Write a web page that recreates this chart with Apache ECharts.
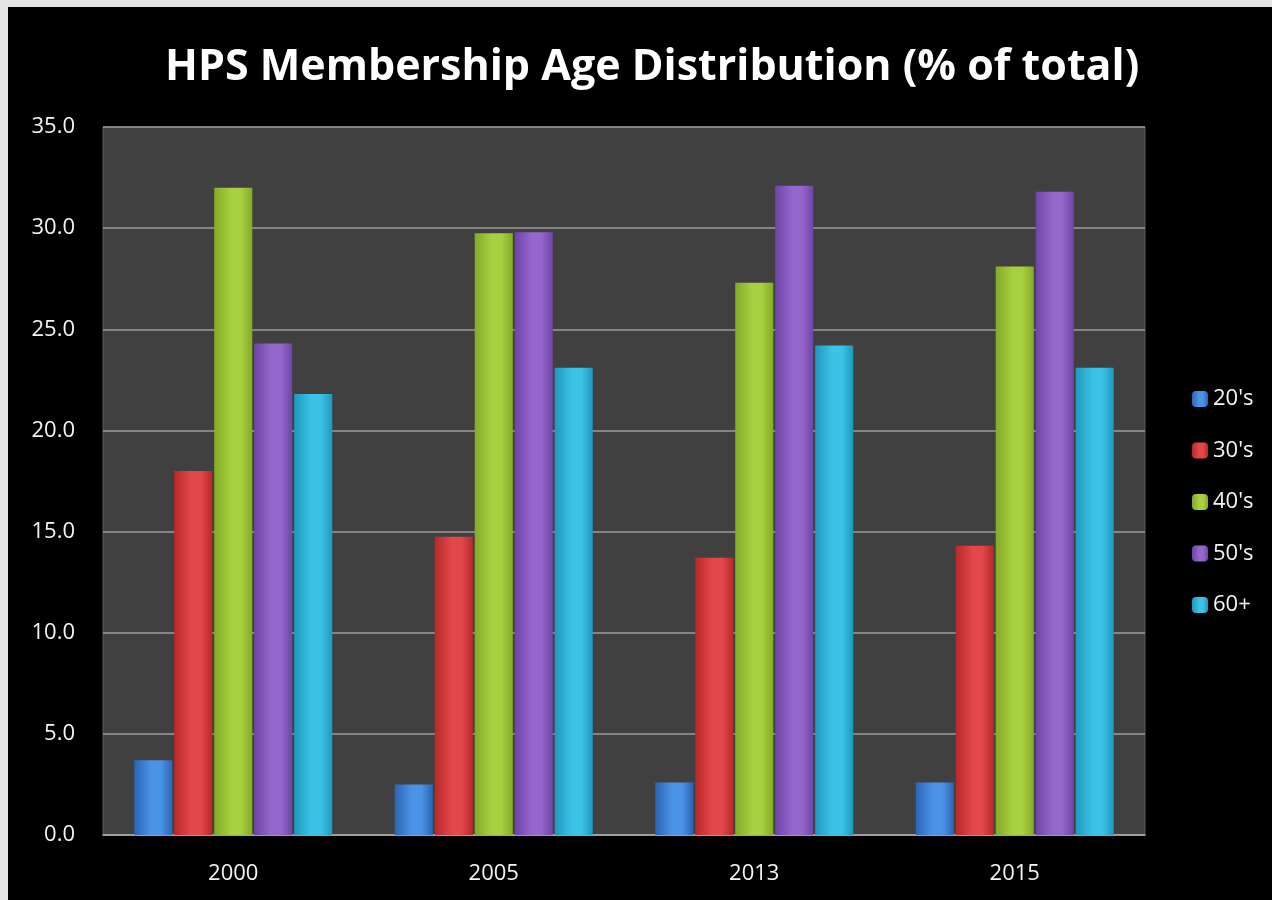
<!DOCTYPE html>
<html>
<head>
    <meta charset="utf-8">
    <title>HPS Membership Age Distribution</title>
    <style type="text/css">
        html,
        body {
            height: 100%;
        }

        body {
            margin: 0;
            padding: 0;
            background: #e4e4e4;
            overflow: hidden;
        }

        #main {
            position: absolute;
            left: 8px;
            top: 7px;
            width: 1264px;
            height: 893px;
        }
    </style>
</head>

<body>
<div id="main"></div>
<script type="text/javascript" src="https://cdn.jsdelivr.net/npm/echarts@6/dist/echarts.min.js"></script>
<script type="text/javascript">
    // 数据
    var years = ['2000', '2005', '2013', '2015'];
    var ageGroups = ["20's", "30's", "40's", "50's", "60+"];
    var v20s = [3.7, 2.5, 2.6, 2.6];
    var v30s = [18.0, 14.75, 13.7, 14.3];
    var v40s = [32.0, 29.75, 27.3, 28.1];
    var v50s = [24.3, 29.8, 32.1, 31.8];
    var v60s = [21.8, 23.1, 24.2, 23.1];
    var yTicks = [0, 5, 10, 15, 20, 25, 30, 35];

    var values = [v20s, v30s, v40s, v50s, v60s];
    // [edge, centre] colours for the glossy bars
    var colors = [
        ['#2c64b4', '#4b93e6'],
        ['#b8282a', '#e2484a'],
        ['#84aa28', '#a8d040'],
        ['#6e45a6', '#9566cc'],
        ['#1f98bd', '#3cc2e6']
    ];

    function barColor(c) {
        return new echarts.graphic.LinearGradient(0, 0, 1, 0, [
            {offset: 0, color: c[0]},
            {offset: 0.45, color: c[1]},
            {offset: 0.7, color: c[1]},
            {offset: 1, color: c[0]}
        ]);
    }

    var myChart = echarts.init(document.getElementById('main'));

    var series = [];
    for (var i = 0; i < ageGroups.length; i++) {
        series.push({
            name: ageGroups[i],
            type: 'bar',
            data: values[i],
            barGap: '5%',
            barCategoryGap: '24%',
            itemStyle: {
                color: barColor(colors[i])
            }
        });
    }

    var option = {
        backgroundColor: '#000',
        animation: false,
        title: {
            text: 'HPS Membership Age Distribution (% of total)',
            left: 152,
            top: 34,
            textStyle: {
                color: '#fff',
                fontFamily: 'Open Sans',
                fontWeight: 'bold',
                fontSize: 43
            }
        },
        legend: {
            orient: 'vertical',
            left: 1179,
            top: 376,
            itemWidth: 16,
            itemHeight: 16,
            itemGap: 29.5,
            data: ageGroups,
            textStyle: {
                color: '#f4f4f4',
                fontFamily: 'Open Sans',
                fontSize: 22
            }
        },
        grid: {
            left: 95,
            right: 127,
            top: 120,
            bottom: 65,
            show: true,
            backgroundColor: '#404040',
            borderColor: '#5a5a5a',
            borderWidth: 1
        },
        xAxis: {
            type: 'category',
            data: years,
            axisTick: {show: false},
            axisLine: {lineStyle: {color: '#a8a8a8', width: 1.5}},
            axisLabel: {
                color: '#f4f4f4',
                fontFamily: 'Open Sans',
                fontSize: 22,
                margin: 28
            }
        },
        yAxis: {
            type: 'value',
            min: yTicks[0],
            max: yTicks[yTicks.length - 1],
            interval: 5,
            axisLine: {show: false},
            axisTick: {show: false},
            splitLine: {lineStyle: {color: '#9c9c9c', width: 1.5}},
            axisLabel: {
                color: '#f4f4f4',
                fontFamily: 'Open Sans',
                fontSize: 22,
                margin: 28,
                formatter: function (v) {
                    return v.toFixed(1);
                }
            }
        },
        series: series
    };

    myChart.setOption(option);
</script>

</body>

</html>
